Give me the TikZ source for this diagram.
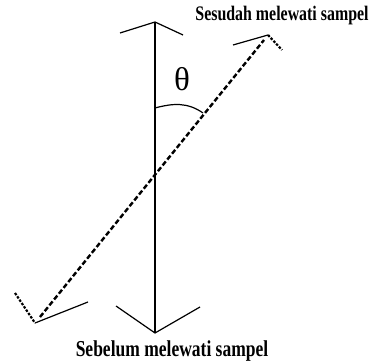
\documentclass[tikz,border=0pt]{standalone}
\usepackage{fontspec}
\setmainfont{Liberation Serif}
\begin{document}
\begin{tikzpicture}[
        x=1pt, y=1pt,
        beam/.style={line width=2.6pt},
        ray/.style={line width=2.4pt, dash pattern=on 5pt off 2.5pt},
        barb/.style={line width=1.2pt},
        dotbarb/.style={line width=2.2pt, dash pattern=on 2.5pt off 1.5pt},
        caption/.style={font=\bfseries, inner sep=0pt, yscale=1.3, transform shape}
    ]
    \useasboundingbox (0,0) rectangle (374,363);
    % vertical beam
    \coordinate (vtop) at (155,341);
    \coordinate (vbot) at (155,30);
    \coordinate (vtopl) at (120,330);
    \coordinate (vtopr) at (183,328);
    \coordinate (vbotl) at (116,57);
    \coordinate (vbotr) at (200,56);
    \draw[beam] (vbot) -- (vtop);
    \draw[barb] (vtopl) -- (vtop) -- (vtopr);
    \draw[barb] (vbotl) -- (vbot) -- (vbotr);
    % rotated beam
    \coordinate (rlow) at (35,40);
    \coordinate (rup) at (268,328);
    \draw[ray] (40,46) -- (264,323);
    \draw[dotbarb] (15,70) -- (rlow);
    \draw[barb] (rlow) -- (88,61);
    \draw[barb] (233,318) -- (rup);
    \draw[dotbarb] (rup) -- (282,313);
    % angle
    \coordinate (arcv) at (155,255);
    \coordinate (arcr) at (203,250);
    \draw[line width=1.2pt] (arcv) to[out=15, in=145] (arcr);
    \node (theta) at (182,284) {\fontsize{33}{36}\selectfont θ};
    % labels
    \node[caption] (after) at (282,347) {\fontsize{15.9}{18}\selectfont Sesudah melewati sampel};
    \node[caption] (before) at (172,12) {\fontsize{17.5}{20}\selectfont Sebelum melewati sampel};
\end{tikzpicture}
\end{document}
